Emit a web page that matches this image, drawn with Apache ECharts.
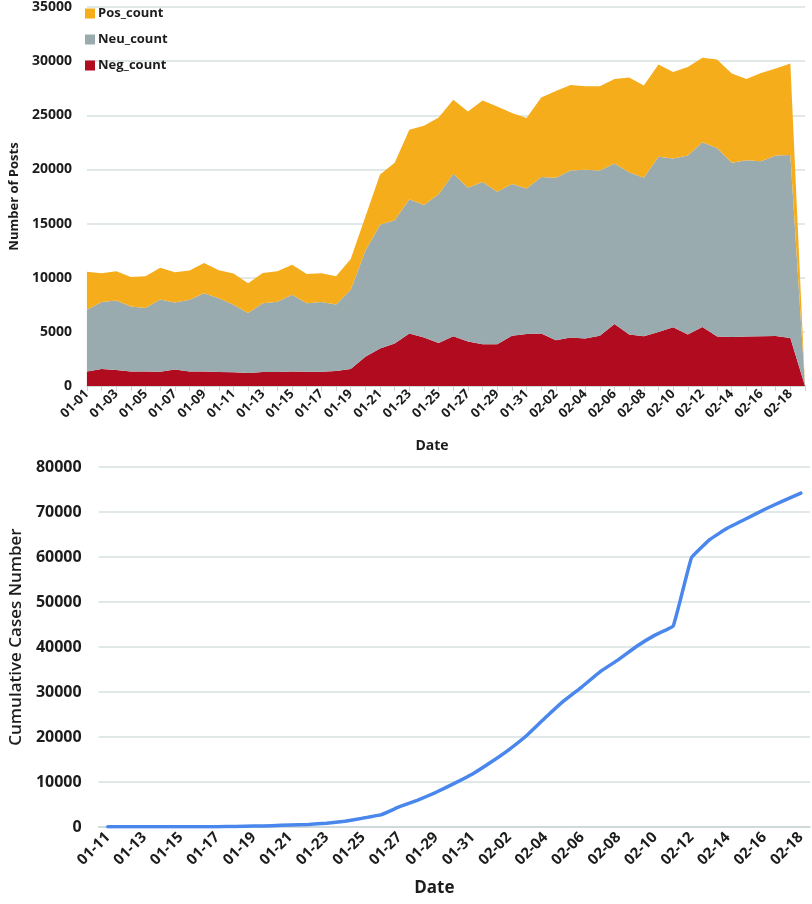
<!DOCTYPE html>
<html>
<head>
<meta charset="utf-8">
<script src="https://cdn.jsdelivr.net/npm/echarts@6/dist/echarts.min.js"></script>
<style>
  html, body { margin: 0; padding: 0; background: #fff; }
  #main { width: 812px; height: 904px; }
</style>
</head>
<body>
<div id="main"></div>
<script>
// top panel: posts per day
const postDates = ['01-01','01-02','01-03','01-04','01-05','01-06','01-07','01-08','01-09','01-10',
  '01-11','01-12','01-13','01-14','01-15','01-16','01-17','01-18','01-19','01-20',
  '01-21','01-22','01-23','01-24','01-25','01-26','01-27','01-28','01-29','01-30','01-31',
  '02-01','02-02','02-03','02-04','02-05','02-06','02-07','02-08','02-09','02-10',
  '02-11','02-12','02-13','02-14','02-15','02-16','02-17','02-18','02-19']
const negCount = [1350,1560,1470,1350,1350,1320,1530,1350,1350,1300,
  1260,1190,1290,1290,1350,1320,1320,1380,1560,2690,
  3460,3920,4840,4470,3980,4590,4100,3860,3860,4650,4800,
  4840,4230,4470,4380,4650,5720,4750,4590,4990,5420,
  4750,5450,4560,4530,4560,4590,4620,4440,0]
const neuCount = [5690,6190,6430,6000,5850,6670,6190,6610,7220,6810,
  6240,5540,6360,6490,7070,6330,6430,6150,7320,9800,
  11420,11390,12400,12250,13720,15010,14210,14970,14080,14000,13450,
  14450,15000,15430,15580,15250,14830,15000,14640,16170,15580,
  16530,17060,17430,16080,16290,16170,16660,16900,0]
const posCount = [3520,2660,2690,2720,2930,2940,2780,2700,2790,2580,
  2880,2760,2790,2810,2780,2700,2660,2600,2850,3150,
  4660,5300,6430,7320,7100,6830,7040,7530,7870,6550,6490,
  7350,8020,7900,7720,7780,7800,8750,8510,8540,8000,
  8180,7800,8170,8260,7500,8140,8050,8450,0]

// bottom panel: cumulative cases
const caseDates = ['01-11','01-12','01-13','01-14','01-15','01-16','01-17','01-18','01-19','01-20',
  '01-21','01-22','01-23','01-24','01-25','01-26','01-27','01-28','01-29','01-30','01-31',
  '02-01','02-02','02-03','02-04','02-05','02-06','02-07','02-08','02-09','02-10',
  '02-11','02-12','02-13','02-14','02-15','02-16','02-17','02-18']
const cumCases = [41,41,41,41,41,45,62,121,198,291,
  440,571,830,1287,1975,2744,4515,5974,7711,9692,11791,
  14380,17205,20438,24324,28018,31161,34546,37198,40171,42638,
  44653,59804,63851,66492,68500,70548,72436,74185]

const font = 'Open Sans'
const ink = '#1c1c1c'
const gridCol = '#d6e0e1'
const plain = v => String(v)

let chart = echarts.init(document.getElementById('main'))
let option = {
  animation: false,
  textStyle: { fontFamily: font },
  legend: {
    orient: 'vertical',
    left: 80,
    top: 2,
    itemWidth: 10,
    itemHeight: 10,
    itemGap: 13,
    icon: 'rect',
    data: ['Pos_count', 'Neu_count', 'Neg_count'],
    textStyle: { fontFamily: font, fontWeight: 'bold', fontSize: 13, color: ink, padding: [0, 0, 0, -2] }
  },
  grid: [
    { left: 77, right: 7, top: 5, height: 381 },
    { left: 93, right: 2, top: 467, height: 360 }
  ],
  xAxis: [
    {
      type: 'category',
      gridIndex: 0,
      data: postDates,
      boundaryGap: false,
      name: 'Date',
      nameLocation: 'middle',
      nameGap: 53,
      nameTextStyle: { fontFamily: font, fontWeight: 'bold', fontSize: 14, color: ink, padding: [0, 28, 0, 0] },
      axisLine: { lineStyle: { color: '#c9d4d5', width: 1.5 } },
      axisTick: { interval: 0, length: 5, lineStyle: { color: '#c9d4d5' } },
      axisLabel: { interval: 1, rotate: 45, margin: 6, fontFamily: font, fontWeight: 'bold', fontSize: 13, color: ink }
    },
    {
      type: 'category',
      gridIndex: 1,
      data: caseDates,
      boundaryGap: true,
      name: 'Date',
      nameLocation: 'middle',
      nameGap: 53,
      nameTextStyle: { fontFamily: font, fontWeight: 'bold', fontSize: 17, color: ink, padding: [0, 40, 0, 0] },
      axisLine: { lineStyle: { color: '#c9d4d5', width: 1.5 } },
      axisTick: { interval: 0, length: 5, lineStyle: { color: '#c9d4d5' } },
      axisLabel: { interval: 1, rotate: 45, margin: 8, fontFamily: font, fontWeight: 'bold', fontSize: 15, color: ink }
    }
  ],
  yAxis: [
    {
      type: 'value',
      gridIndex: 0,
      min: 0,
      max: 35000,
      interval: 5000,
      name: 'Number of Posts',
      nameLocation: 'middle',
      nameGap: 60,
      nameTextStyle: { fontFamily: font, fontWeight: 'bold', fontSize: 13, color: ink },
      axisLine: { show: false },
      axisTick: { show: false },
      axisLabel: { margin: 15, formatter: plain, fontFamily: font, fontWeight: 'bold', fontSize: 14, color: ink },
      splitLine: { lineStyle: { color: gridCol, width: 1.5 } }
    },
    {
      type: 'value',
      gridIndex: 1,
      min: 0,
      max: 80000,
      interval: 10000,
      name: 'Cumulative Cases Number',
      nameLocation: 'middle',
      nameGap: 73,
      nameTextStyle: { fontFamily: font, fontWeight: 600, fontSize: 17, color: ink, padding: [0, 0, 0, 20] },
      axisLine: { show: false },
      axisTick: { show: false },
      axisLabel: { margin: 17, formatter: plain, fontFamily: font, fontWeight: 'bold', fontSize: 16, color: ink },
      splitLine: { lineStyle: { color: gridCol, width: 1.5 } }
    }
  ],
  series: [
    {
      name: 'Neg_count',
      type: 'line',
      xAxisIndex: 0,
      yAxisIndex: 0,
      stack: 'posts',
      data: negCount,
      showSymbol: false,
      lineStyle: { width: 0 },
      itemStyle: { color: '#b00b1e' },
      areaStyle: { color: '#b00b1e', opacity: 1 }
    },
    {
      name: 'Neu_count',
      type: 'line',
      xAxisIndex: 0,
      yAxisIndex: 0,
      stack: 'posts',
      data: neuCount,
      showSymbol: false,
      lineStyle: { width: 0 },
      itemStyle: { color: '#9aabaf' },
      areaStyle: { color: '#9aabaf', opacity: 1 }
    },
    {
      name: 'Pos_count',
      type: 'line',
      xAxisIndex: 0,
      yAxisIndex: 0,
      stack: 'posts',
      data: posCount,
      showSymbol: false,
      lineStyle: { width: 0 },
      itemStyle: { color: '#f6ad1c' },
      areaStyle: { color: '#f6ad1c', opacity: 1 }
    },
    {
      name: 'Cumulative',
      type: 'line',
      xAxisIndex: 1,
      yAxisIndex: 1,
      data: cumCases,
      showSymbol: false,
      smooth: 0.08,
      lineStyle: { color: '#4a87ec', width: 3.5, cap: 'round', join: 'round' },
      itemStyle: { color: '#4a87ec' }
    }
  ]
}
chart.setOption(option)
</script>
</body>
</html>
